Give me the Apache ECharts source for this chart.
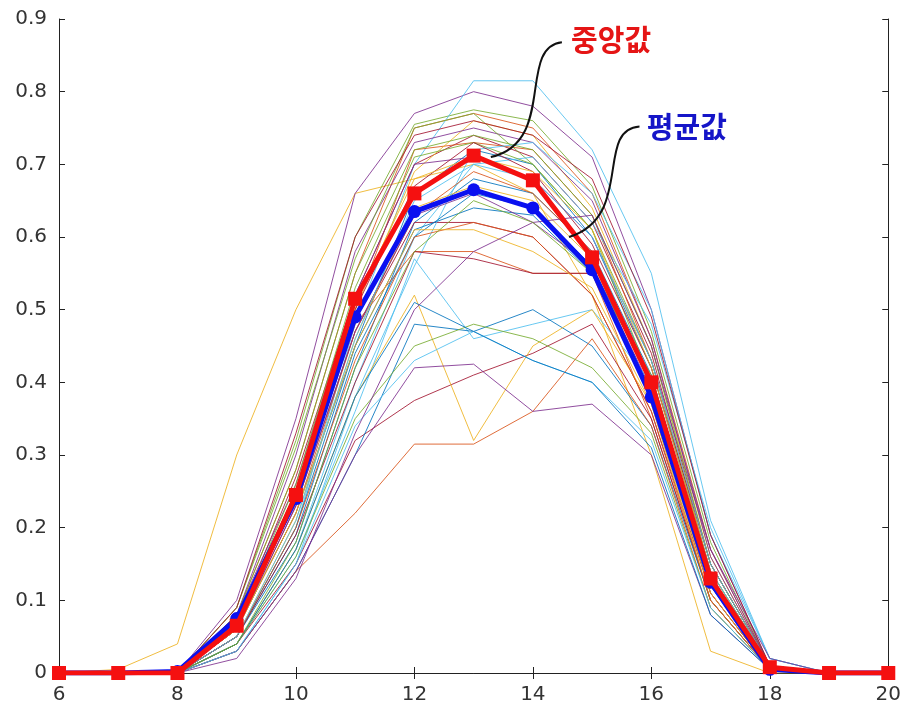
<!DOCTYPE html>
<html>
<head>
<meta charset="utf-8">
<script src="https://cdn.jsdelivr.net/npm/echarts@6/dist/echarts.min.js"></script>
<style>
  html, body { margin: 0; padding: 0; background: #fff; }
  #main { width: 904px; height: 718px; }
</style>
</head>
<body>
<div id="main"></div>
<script>
// hours on the x axis
var hours = [6, 7, 8, 9, 10, 11, 12, 13, 14, 15, 16, 17, 18, 19, 20];

// median and mean profiles
var median = [0, 0, 0, 0.065, 0.245, 0.515, 0.66, 0.712, 0.678, 0.572, 0.40, 0.13, 0.008, 0, 0];
var mean = [0, 0, 0.002, 0.075, 0.24, 0.49, 0.635, 0.665, 0.64, 0.555, 0.38, 0.125, 0.005, 0, 0];

// individual daily profiles (thin lines)
var daily = [
    [0, 0, 0, 0.06, 0.22, 0.45, 0.66, 0.72, 0.70, 0.60, 0.42, 0.14, 0.01, 0, 0],
    [0, 0, 0, 0.08, 0.28, 0.55, 0.75, 0.77, 0.75, 0.66, 0.46, 0.17, 0.01, 0, 0],
    [0, 0.005, 0.04, 0.30, 0.50, 0.66, 0.68, 0.70, 0.66, 0.52, 0.30, 0.03, 0, 0, 0],
    [0, 0, 0, 0.10, 0.35, 0.66, 0.77, 0.80, 0.78, 0.71, 0.50, 0.19, 0.01, 0, 0],
    [0, 0, 0, 0.09, 0.32, 0.60, 0.755, 0.775, 0.76, 0.67, 0.47, 0.18, 0.01, 0, 0],
    [0, 0, 0, 0.05, 0.20, 0.48, 0.70, 0.815, 0.815, 0.72, 0.55, 0.21, 0.02, 0, 0],
    [0, 0, 0, 0.07, 0.27, 0.52, 0.70, 0.74, 0.71, 0.62, 0.44, 0.15, 0.01, 0, 0],
    [0, 0, 0, 0.05, 0.18, 0.42, 0.62, 0.68, 0.66, 0.58, 0.41, 0.13, 0.01, 0, 0],
    [0, 0, 0, 0.07, 0.25, 0.50, 0.72, 0.73, 0.72, 0.63, 0.43, 0.15, 0.01, 0, 0],
    [0, 0, 0, 0.06, 0.24, 0.50, 0.69, 0.76, 0.74, 0.64, 0.45, 0.16, 0.01, 0, 0],
    [0, 0, 0, 0.08, 0.30, 0.58, 0.73, 0.75, 0.73, 0.65, 0.46, 0.16, 0.01, 0, 0],
    [0, 0, 0, 0.09, 0.31, 0.57, 0.75, 0.77, 0.70, 0.61, 0.40, 0.12, 0.005, 0, 0],
    [0, 0, 0, 0.04, 0.17, 0.40, 0.60, 0.70, 0.71, 0.62, 0.48, 0.20, 0.02, 0, 0],
    [0, 0, 0, 0.06, 0.23, 0.47, 0.62, 0.62, 0.60, 0.52, 0.36, 0.11, 0.005, 0, 0],
    [0, 0, 0, 0.05, 0.20, 0.45, 0.61, 0.64, 0.63, 0.55, 0.38, 0.12, 0.01, 0, 0],
    [0, 0, 0, 0.06, 0.24, 0.48, 0.58, 0.58, 0.55, 0.55, 0.35, 0.10, 0.005, 0, 0],
    [0, 0, 0, 0.05, 0.21, 0.46, 0.64, 0.67, 0.65, 0.57, 0.38, 0.12, 0.01, 0, 0],
    [0, 0, 0, 0.08, 0.26, 0.52, 0.70, 0.71, 0.68, 0.60, 0.43, 0.17, 0.01, 0, 0],
    [0, 0, 0, 0.07, 0.26, 0.53, 0.71, 0.73, 0.70, 0.61, 0.43, 0.14, 0.01, 0, 0],
    [0, 0, 0, 0.03, 0.15, 0.38, 0.56, 0.72, 0.73, 0.66, 0.50, 0.19, 0.02, 0, 0],
    [0, 0, 0, 0.07, 0.25, 0.50, 0.67, 0.73, 0.69, 0.59, 0.42, 0.15, 0.01, 0, 0],
    [0, 0, 0, 0.05, 0.19, 0.44, 0.60, 0.66, 0.64, 0.56, 0.40, 0.13, 0.01, 0, 0],
    [0, 0, 0, 0.06, 0.22, 0.47, 0.63, 0.69, 0.66, 0.58, 0.40, 0.13, 0.01, 0, 0],
    [0, 0, 0, 0.07, 0.24, 0.51, 0.68, 0.71, 0.69, 0.61, 0.42, 0.14, 0.01, 0, 0],
    [0, 0, 0, 0.06, 0.23, 0.47, 0.63, 0.66, 0.62, 0.56, 0.39, 0.12, 0.01, 0, 0],
    [0, 0, 0, 0.08, 0.28, 0.55, 0.72, 0.74, 0.72, 0.63, 0.45, 0.15, 0.01, 0, 0],
    [0, 0, 0, 0.04, 0.16, 0.36, 0.57, 0.46, 0.48, 0.50, 0.40, 0.14, 0.01, 0, 0],
    [0, 0, 0, 0.04, 0.15, 0.32, 0.375, 0.41, 0.44, 0.48, 0.35, 0.10, 0.005, 0, 0],
    [0, 0, 0, 0.03, 0.14, 0.30, 0.48, 0.47, 0.50, 0.45, 0.34, 0.10, 0.005, 0, 0],
    [0, 0, 0, 0.03, 0.14, 0.22, 0.315, 0.315, 0.36, 0.46, 0.34, 0.09, 0.005, 0, 0],
    [0, 0, 0, 0.04, 0.17, 0.38, 0.52, 0.32, 0.45, 0.50, 0.37, 0.10, 0.005, 0, 0],
    [0, 0, 0, 0.03, 0.14, 0.30, 0.42, 0.425, 0.36, 0.37, 0.30, 0.08, 0.005, 0, 0],
    [0, 0, 0, 0.04, 0.16, 0.35, 0.45, 0.48, 0.46, 0.42, 0.33, 0.09, 0.005, 0, 0],
    [0, 0, 0, 0.03, 0.15, 0.34, 0.43, 0.47, 0.43, 0.40, 0.32, 0.09, 0.005, 0, 0],
    [0, 0, 0, 0.05, 0.19, 0.40, 0.58, 0.57, 0.55, 0.55, 0.38, 0.11, 0.005, 0, 0],
    [0, 0, 0, 0.04, 0.17, 0.38, 0.51, 0.47, 0.43, 0.40, 0.31, 0.08, 0.005, 0, 0],
    [0, 0, 0, 0.05, 0.20, 0.43, 0.60, 0.62, 0.60, 0.52, 0.36, 0.10, 0.005, 0, 0],
    [0, 0, 0, 0.06, 0.22, 0.45, 0.61, 0.61, 0.58, 0.53, 0.37, 0.11, 0.005, 0, 0],
    [0, 0, 0, 0.02, 0.13, 0.33, 0.50, 0.58, 0.62, 0.63, 0.45, 0.17, 0.02, 0, 0],
    [0, 0, 0, 0.04, 0.18, 0.42, 0.58, 0.65, 0.62, 0.55, 0.41, 0.13, 0.01, 0, 0],
    [0, 0, 0, 0.05, 0.21, 0.46, 0.65, 0.70, 0.68, 0.60, 0.43, 0.15, 0.01, 0, 0],
    [0, 0, 0, 0.09, 0.33, 0.60, 0.74, 0.76, 0.74, 0.68, 0.49, 0.19, 0.01, 0, 0]
];

var lineColors = ['#0072BD', '#D95319', '#EDB120', '#7E2F8E', '#77AC30', '#4DBEEE', '#A2142F'];

var myChart = echarts.init(document.getElementById('main'));

function pairs(vals) {
    return hours.map(function (h, i) { return [h, vals[i]]; });
}

var series = [];
daily.forEach(function (d, i) {
    series.push({
        type: 'line',
        data: pairs(d),
        symbol: 'none',
        silent: true,
        lineStyle: { width: 1, color: lineColors[i % lineColors.length], opacity: 0.85 }
    });
});
series.push({
    name: '평균값',
    type: 'line',
    data: pairs(mean),
    symbol: 'circle',
    symbolSize: 13,
    itemStyle: { color: '#0a10f0' },
    lineStyle: { width: 5, color: '#0a10f0' },
    z: 5
});
series.push({
    name: '중앙값',
    type: 'line',
    data: pairs(median),
    symbol: 'rect',
    symbolSize: 14,
    itemStyle: { color: '#f51010' },
    lineStyle: { width: 5, color: '#f51010' },
    z: 6
});

var labelFont = { color: '#333', fontSize: 20, fontFamily: 'DejaVu Sans' };

var option = {
    animation: false,
    grid: { left: 59, right: 13, top: 19, bottom: 45 },
    xAxis: [
        {
            type: 'value', min: 6, max: 20, interval: 2,
            axisLine: { lineStyle: { color: '#222' } },
            axisTick: { inside: true, length: 6, lineStyle: { color: '#222' } },
            axisLabel: Object.assign({ margin: 12 }, labelFont),
            splitLine: { show: false }
        },
        {
            type: 'value', position: 'top', min: 6, max: 20, interval: 2,
            axisLine: { lineStyle: { color: '#222' } },
            axisTick: { inside: true, length: 6, lineStyle: { color: '#222' } },
            axisLabel: { show: false },
            splitLine: { show: false }
        }
    ],
    yAxis: [
        {
            type: 'value', min: 0, max: 0.9, interval: 0.1,
            axisLine: { show: true, lineStyle: { color: '#222' } },
            axisTick: { show: true, inside: true, length: 6, lineStyle: { color: '#222' } },
            axisLabel: Object.assign({ margin: 12 }, labelFont),
            splitLine: { show: false }
        },
        {
            type: 'value', position: 'right', min: 0, max: 0.9, interval: 0.1,
            axisLine: { show: true, lineStyle: { color: '#222' } },
            axisTick: { show: true, inside: true, length: 6, lineStyle: { color: '#222' } },
            axisLabel: { show: false },
            splitLine: { show: false }
        }
    ],
    series: series
};

myChart.setOption(option);

// annotations anchored to data coordinates
function px(x, y) { return myChart.convertToPixel({ gridIndex: 0 }, [x, y]); }

var medText = px(15.32, 0.871);
var medStart = px(14.49, 0.868);
var medEnd = px(13.29, 0.710);
var meanText = px(16.6, 0.751);
var meanStart = px(15.8, 0.752);
var meanEnd = px(14.61, 0.600);

myChart.setOption({
    graphic: [
        {
            type: 'bezierCurve',
            shape: {
                x1: medStart[0], y1: medStart[1],
                cpx1: medStart[0] - 45, cpy1: medStart[1] + 5,
                cpx2: medStart[0] - 5, cpy2: medStart[1] + 100,
                x2: medEnd[0], y2: medEnd[1]
            },
            style: { stroke: '#111', lineWidth: 2, fill: null },
            z: 100
        },
        {
            type: 'bezierCurve',
            shape: {
                x1: meanStart[0], y1: meanStart[1],
                cpx1: meanStart[0] - 45, cpy1: meanStart[1] + 3,
                cpx2: meanStart[0] - 5, cpy2: meanStart[1] + 90,
                x2: meanEnd[0], y2: meanEnd[1]
            },
            style: { stroke: '#111', lineWidth: 2, fill: null },
            z: 100
        },
        {
            type: 'text',
            x: medText[0], y: medText[1],
            style: {
                text: '중앙값', fill: '#e51515',
                font: 'bold 29px "Noto Sans CJK KR"',
                align: 'center', verticalAlign: 'middle'
            },
            z: 100
        },
        {
            type: 'text',
            x: meanText[0], y: meanText[1],
            style: {
                text: '평균값', fill: '#1515c8',
                font: 'bold 29px "Noto Sans CJK KR"',
                align: 'center', verticalAlign: 'middle'
            },
            z: 100
        }
    ]
});
</script>
</body>
</html>
